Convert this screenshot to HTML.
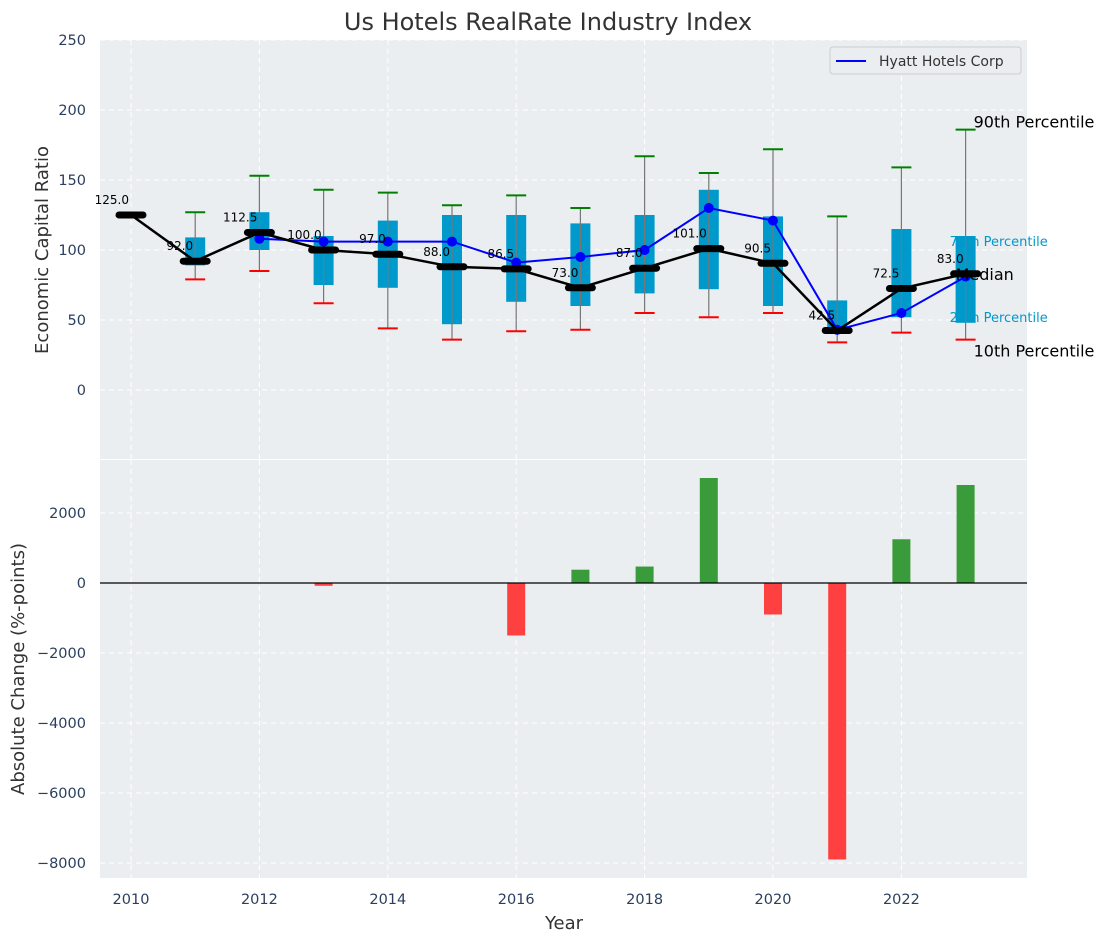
<!DOCTYPE html>
<html><head><meta charset="utf-8"><style>
body{margin:0;background:#fff;}
svg{display:block;font-family:"DejaVu Sans","Liberation Sans",sans-serif;}
</style></head><body>
<svg id="chart" width="1107" height="942"></svg>
<script>
const years=[2010,2011,2012,2013,2014,2015,2016,2017,2018,2019,2020,2021,2022,2023];
const medians=[125,92,112.5,100,97,88,86.5,73,87,101,90.5,42.5,72.5,83];
const p25=[null,89,100,75,73,47,63,60,69,72,60,41,52,48];
const p75=[null,109,127,110,121,125,125,119,125,143,124,64,115,110];
const p90=[null,127,153,143,141,132,139,130,167,155,172,124,159,186];
const p10=[null,79,85,62,44,36,42,43,55,52,55,34,41,36];
const hyattYears=[2012,2013,2014,2015,2016,2017,2018,2019,2020,2021,2022,2023];
const hyatt=[108,106,106,106,91,95,100,130,121,43,55,81];
const changeYears=[2013,2016,2017,2018,2019,2020,2021,2022,2023];
const changes=[-80,-1500,380,470,3000,-900,-7900,1250,2800];
const yTicksTop=[0,50,100,150,200,250];
const yTicksBot=[-8000,-6000,-4000,-2000,0,2000];
const xTicks=[2010,2012,2014,2016,2018,2020,2022];

const NS="http://www.w3.org/2000/svg";
const svg=document.getElementById('chart');
function el(tag,attrs,parent,text){const e=document.createElementNS(NS,tag);for(const k in attrs)e.setAttribute(k,attrs[k]);if(text!==undefined)e.textContent=text;(parent||svg).appendChild(e);return e;}
const L=100,R=1027,T1=40,B1=459,T2=460,B2=878;
const x=v=>131+(v-2010)*64.2;
const y1=v=>T1+(250-v)/300*(B1+1-T1);
const y2=v=>583-v*0.035;

let g=el('g',{});
el('rect',{x:L,y:T1,width:R-L,height:B1-T1,fill:'#eaeef0'},g);
let g2=el('g',{});
el('rect',{x:L,y:T2,width:R-L,height:B2-T2,fill:'#eaeef0'},g2);
for(const t of xTicks){el('line',{x1:x(t),x2:x(t),y1:T1,y2:B1,stroke:'#fff','stroke-dasharray':'5,4','stroke-width':1},g);el('line',{x1:x(t),x2:x(t),y1:T2,y2:B2,stroke:'#fff','stroke-dasharray':'5,4','stroke-width':1},g2);}
for(const t of yTicksTop){el('line',{x1:L,x2:R,y1:y1(t),y2:y1(t),stroke:'#fff','stroke-dasharray':'5,4'},g);
 const tx=el('text',{x:86,y:y1(t)+5,'text-anchor':'end','font-size':14.5,fill:'#2a3f5f'},g,String(t));}
for(const t of yTicksBot){el('line',{x1:L,x2:R,y1:y2(t),y2:y2(t),stroke:'#fff','stroke-dasharray':'5,4'},g2);
 const tx=el('text',{x:86,y:y2(t)+5,'text-anchor':'end','font-size':14.5,fill:'#2a3f5f'},g2,String(t).replace('-','\u2212'));}
for(const t of xTicks){const tx=el('text',{x:x(t),y:904,'text-anchor':'middle','font-size':14.5,fill:'#2a3f5f'},g2,String(t));}

const lastX=x(2023);
function lab(t,yy,size,col,dx,name){const tx=el('text',{x:lastX+dx,y:yy,'font-size':size,fill:col},g,t);return tx;}
lab('75th Percentile',y1(p75[13])+10,13,'#0099cc',-16,'p75-label');
lab('25th Percentile',y1(p25[13])-1,13,'#0099cc',-16,'p25-label');

years.forEach((yr,i)=>{
 if(p25[i]===null)return;
 const cx=x(yr);
 const bg=el('g',{},g);
 el('rect',{x:cx-10,y:y1(p75[i]),width:20,height:y1(p25[i])-y1(p75[i]),fill:'#0099cc'},bg);
 el('line',{x1:cx,x2:cx,y1:y1(p90[i]),y2:y1(p10[i]),stroke:'#777','stroke-width':1.2},bg);
 el('line',{x1:cx-10,x2:cx+10,y1:y1(p90[i]),y2:y1(p90[i]),stroke:'green','stroke-width':2},bg);
 el('line',{x1:cx-10,x2:cx+10,y1:y1(p10[i]),y2:y1(p10[i]),stroke:'red','stroke-width':2},bg);
});
lab('90th Percentile',y1(p90[13])-2,16,'#000',8,'p90-label');
lab('10th Percentile',y1(p10[13])+17,16,'#000',8,'p10-label');

let pts=hyattYears.map((yr,i)=>x(yr)+','+y1(hyatt[i])).join(' ');
const hl=el('polyline',{points:pts,fill:'none',stroke:'blue','stroke-width':2},g);
hyattYears.forEach((yr,i)=>{const c=el('circle',{cx:x(yr),cy:y1(hyatt[i]),r:5,fill:'blue'},g);});
pts=years.map((yr,i)=>x(yr)+','+y1(medians[i])).join(' ');
const ml=el('polyline',{points:pts,fill:'none',stroke:'#000','stroke-width':2.5},g);
years.forEach((yr,i)=>{const cx=x(yr),cy=y1(medians[i]);
 const m=el('line',{x1:cx-12,x2:cx+12,y1:cy,y2:cy,stroke:'#000','stroke-width':7,'stroke-linecap':'round'},g);
 const t=el('text',{x:cx-2,y:cy-11,'text-anchor':'end','font-size':12,fill:'#000'},g,medians[i].toFixed(1));});
lab('Median',y1(medians[13])+6,16,'#000',-10,'median-label');

const lg=el('g',{},svg);
el('rect',{x:830,y:47,width:191,height:27,rx:3,fill:'#eaeef0',stroke:'#ccc'},lg);
el('line',{x1:836,x2:866,y1:61,y2:61,stroke:'blue','stroke-width':2},lg);
el('text',{x:879,y:66,'font-size':14,fill:'#333'},lg,'Hyatt Hotels Corp');

changeYears.forEach((yr,i)=>{const v=changes[i];const cx=x(yr);
 const b=el('rect',{x:cx-9,y:Math.min(y2(v),y2(0)),width:18,height:Math.abs(y2(v)-y2(0)),fill:v>=0?'#3a9b3a':'#ff4040'},g2);
 });
el('line',{x1:L,x2:R,y1:y2(0),y2:y2(0),stroke:'#000','stroke-width':1.2},g2);

let t=el('text',{x:548,y:30,'text-anchor':'middle','font-size':24,fill:'#333'},svg,'Us Hotels RealRate Industry Index');
t=el('text',{x:0,y:0,'text-anchor':'middle','font-size':18,fill:'#333',transform:'translate(48,250) rotate(-90)'},svg,'Economic Capital Ratio');
t=el('text',{x:0,y:0,'text-anchor':'middle','font-size':18,fill:'#333',transform:'translate(24,669) rotate(-90)'},svg,'Absolute Change (%-points)');
t=el('text',{x:564,y:929,'text-anchor':'middle','font-size':18,fill:'#333'},svg,'Year');
</script>
</body></html>
